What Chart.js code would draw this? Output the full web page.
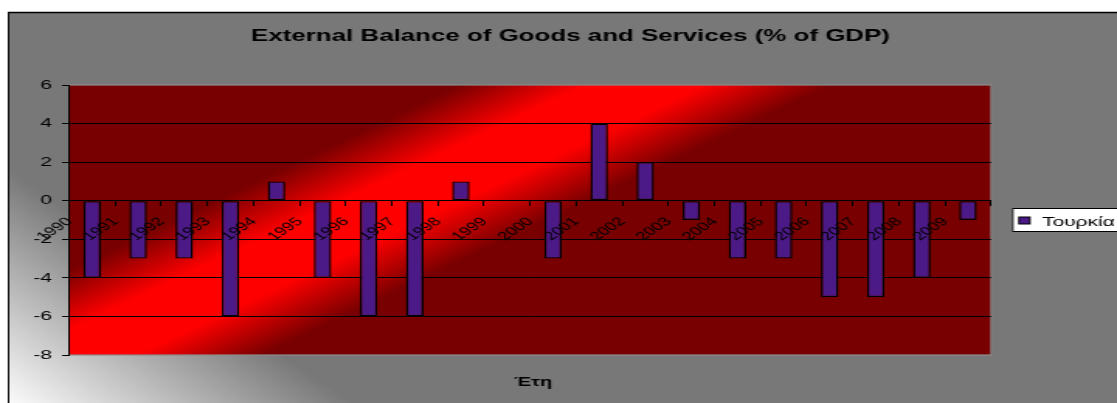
<!DOCTYPE html>
<html>
<head>
<meta charset="utf-8">
<title>External Balance of Goods and Services</title>
<script src="https://cdn.jsdelivr.net/npm/chart.js@4/dist/chart.umd.min.js"></script>
<style>
  html, body { margin: 0; padding: 0; background: #fff; overflow: hidden; }
  #wrap { width: 1117px; height: 403px; overflow: hidden; }
  /* the reference is a horizontally stretched picture, so the canvas is drawn narrow and stretched */
  #chart { transform-origin: 0 0; }
</style>
</head>
<body>
<div id="wrap"><canvas id="chart" width="720" height="403"></canvas></div>
<script>
  const years = ['1990', '1991', '1992', '1993', '1994', '1995', '1996', '1997', '1998', '1999',
                 '2000', '2001', '2002', '2003', '2004', '2005', '2006', '2007', '2008', '2009'];
  const turkeyBalance = [-4, -3, -3, -6, 1, -4, -6, -6, 1, 0, -3, 4, 2, -1, -3, -3, -5, -5, -4, -1];
  const seriesName = 'Τουρκία';
  const chartTitle = 'External Balance of Goods and Services (% of GDP)';
  const xTitle = 'Έτη';
  const yMin = -8, yMax = 6, yStep = 2;

  const S = 1117 / 720; // horizontal stretch of the page picture
  const canvas = document.getElementById('chart');
  canvas.style.transform = 'scaleX(' + S + ')';
  const FONT = '"Liberation Sans", Arial, sans-serif';
  const BAR = '#4b1a87';

  const excelLook = {
    id: 'excelLook',
    beforeDraw(chart) {
      const { ctx, chartArea: a } = chart;
      ctx.save();
      ctx.fillStyle = '#fff';
      ctx.fillRect(0, 0, chart.width, chart.height);
      // work in page pixels for the gradients
      ctx.scale(1 / S, 1);
      const bg = ctx.createLinearGradient(8, 410, 8 + 0.561 * 200, 410 - 0.827 * 200);
      bg.addColorStop(0, '#ffffff');
      bg.addColorStop(1, '#787878');
      ctx.fillStyle = bg;
      ctx.fillRect(8, 12, 1130, 400);
      ctx.strokeStyle = '#000';
      ctx.lineWidth = 1.5;
      ctx.strokeRect(8.5, 12.5, 1130, 400);

      const L = a.left * S, R = a.right * S;
      const px = L + 7, py = a.bottom, nx = 0.4284, ny = 0.9036, h = 80;
      const pg = ctx.createLinearGradient(px - nx * h, py - ny * h, px + nx * h, py + ny * h);
      pg.addColorStop(0, '#780000');
      pg.addColorStop(0.34, '#ff0000');
      pg.addColorStop(0.66, '#ff0000');
      pg.addColorStop(1, '#780000');
      ctx.fillStyle = pg;
      ctx.fillRect(L, a.top, R - L, a.bottom - a.top);
      ctx.strokeStyle = '#8c8c8c';
      ctx.lineWidth = 1.2;
      ctx.strokeRect(L, a.top, R - L, a.bottom - a.top);
      ctx.restore();
    },
    afterDraw(chart) {
      const ctx = chart.ctx;
      ctx.save();
      ctx.fillStyle = '#000';
      ctx.textAlign = 'center';
      ctx.textBaseline = 'alphabetic';
      ctx.font = 'bold 16.7px ' + FONT;
      ctx.fillText(chartTitle, 570.5 / S, 41);
      ctx.font = 'bold 13px ' + FONT;
      ctx.fillText(xTitle, 533 / S, 386);

      // legend box, cut by the right edge like the reference
      const lx = 1012 / S;
      ctx.fillStyle = '#fff';
      ctx.fillRect(lx, 208, 80, 24);
      ctx.strokeStyle = '#000';
      ctx.lineWidth = 1;
      ctx.strokeRect(lx + 0.5, 208.5, 80, 23);
      ctx.fillStyle = BAR;
      ctx.fillRect(1019 / S, 217, 7, 7);
      ctx.strokeRect(1019 / S, 217, 7, 7);
      ctx.fillStyle = '#000';
      ctx.textAlign = 'left';
      ctx.font = '13.5px ' + FONT;
      ctx.fillText(chart.data.datasets[0].label, 1042 / S, 226);
      ctx.restore();
    }
  };

  new Chart(canvas, {
    type: 'bar',
    data: {
      labels: years,
      datasets: [{
        label: seriesName,
        data: turkeyBalance,
        backgroundColor: BAR,
        borderColor: '#000',
        borderWidth: 1.4,
        borderSkipped: false,
        categoryPercentage: 1,
        barPercentage: 0.38
      }]
    },
    options: {
      responsive: false,
      animation: false,
      devicePixelRatio: 1,
      events: [],
      layout: { padding: { left: 0, top: 85, right: 720 - 991 / S, bottom: 48 } },
      plugins: {
        legend: { display: false },
        title: { display: false },
        tooltip: { enabled: false }
      },
      scales: {
        x: {
          type: 'category',
          position: { y: 0 },
          offset: true,
          grid: {
            z: 1, // tick marks over the bars
            drawOnChartArea: false,
            drawTicks: true,
            tickLength: 5,
            tickColor: '#000',
            offset: true
          },
          border: { display: true, color: '#000', width: 1, z: 1 },
          ticks: {
            z: 1, // year labels are written over the bars
            autoSkip: false,
            minRotation: 45,
            maxRotation: 45,
            labelOffset: -14.5,
            padding: 9,
            color: '#000',
            font: { family: FONT, size: 12 }
          }
        },
        y: {
          min: yMin,
          max: yMax,
          afterFit(scale) { scale.width = 69 / S; },
          grid: {
            color: (c) => (c.tick && (c.tick.value === yMax || c.tick.value === yMin)) ? 'rgba(0,0,0,0)' : '#000',
            tickColor: '#000',
            tickLength: 4.5,
            lineWidth: 1
          },
          border: { display: true, color: '#000', width: 1 },
          ticks: {
            stepSize: yStep,
            padding: 6.5,
            color: '#000',
            font: { family: FONT, size: 13.5 }
          }
        }
      }
    },
    plugins: [excelLook]
  });
</script>
</body>
</html>
